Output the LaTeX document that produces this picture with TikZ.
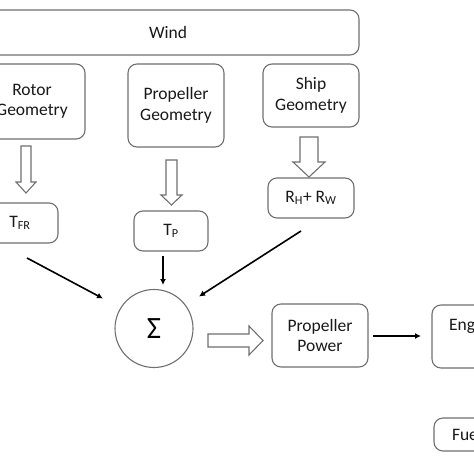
\documentclass[tikz,border=0pt]{standalone}
\usepackage{fontspec}
\setmainfont{Carlito}
\usetikzlibrary{arrows.meta}
\begin{document}
\begin{tikzpicture}[x=1pt,y=-1pt,
  txt/.style={align=center,inner sep=0pt,font=\fontsize{17.5}{20.5}\selectfont,text=black!90},
  box/.style={txt,draw=boxgray,line width=1.1pt,rounded corners=9pt},
  hollow/.style={draw=boxgray,line width=1.1pt,fill=white},
  arr/.style={draw=black,line width=1.6pt,-{Latex[length=6pt,width=6pt]}}]
\definecolor{boxgray}{RGB}{112,112,112}
\useasboundingbox (0,0) rectangle (474,474);
\clip (0,0) rectangle (474,474);
\fill[white] (0,0) rectangle (474,474);
% boxes
\node[box,minimum width=382pt,minimum height=45pt] (wind) at (168,32.5) {Wind};
\node[box,minimum width=106pt,minimum height=75pt] (rotor) at (32,101.5) {Rotor\\Geometry};
\node[box,minimum width=96pt,minimum height=83pt] (propg) at (176,105.5) {Propeller\\Geometry};
\node[box,minimum width=96pt,minimum height=63pt] (ship) at (311,95.5) {Ship\\Geometry};
\node[box,minimum width=76pt,minimum height=40pt] (tfr) at (20,223) {T\textsubscript{FR}};
\node[box,minimum width=74pt,minimum height=40pt] (tp) at (171,231) {T\textsubscript{P}};
\node[box,minimum width=86pt,minimum height=40pt] (rhw) at (311,198) {R\textsubscript{H}+ R\textsubscript{W}};
\node[draw=boxgray,line width=1.1pt,circle,minimum size=78pt,inner sep=0pt,
  font=\fontsize{31}{31}\selectfont] (sigma) at (154,328.5) {Σ};
\node[box,minimum width=96pt,minimum height=63pt] (pp) at (320,335.5) {Propeller\\Power};
\node[box,minimum width=82pt,minimum height=63pt] (eng) at (473,336.5) {};
\node[txt] (engt) at (473,326) {Engine};
\node[box,minimum width=66pt,minimum height=33pt] (fuel) at (467,434.5) {Fuel};
% hollow arrows
\draw[hollow] (21,146) -- (31,146) -- (31,182) -- (36,182) -- (26,193) -- (16,182) -- (21,182) -- cycle;
\draw[hollow] (166,160) -- (177,160) -- (177,195) -- (182,195) -- (171.5,205) -- (161,195) -- (166,195) -- cycle;
\draw[hollow] (300,137) -- (318,137) -- (318,162) -- (325,162) -- (309,177) -- (293,162) -- (300,162) -- cycle;
\draw[hollow] (208,334) -- (249,334) -- (249,326) -- (263,340.5) -- (249,355) -- (249,347) -- (208,347) -- cycle;
% black arrows
\coordinate (a1) at (27,258); \coordinate (b1) at (103,298.5);
\coordinate (a2) at (163,256); \coordinate (b2) at (163,285);
\coordinate (a3) at (301,231); \coordinate (b3) at (199,296.5);
\coordinate (a4) at (373,336); \coordinate (b4) at (421,336);
\draw[arr] (a1) -- (b1);
\draw[arr] (a2) -- (b2);
\draw[arr] (a3) -- (b3);
\draw[arr] (a4) -- (b4);
\end{tikzpicture}
\end{document}
